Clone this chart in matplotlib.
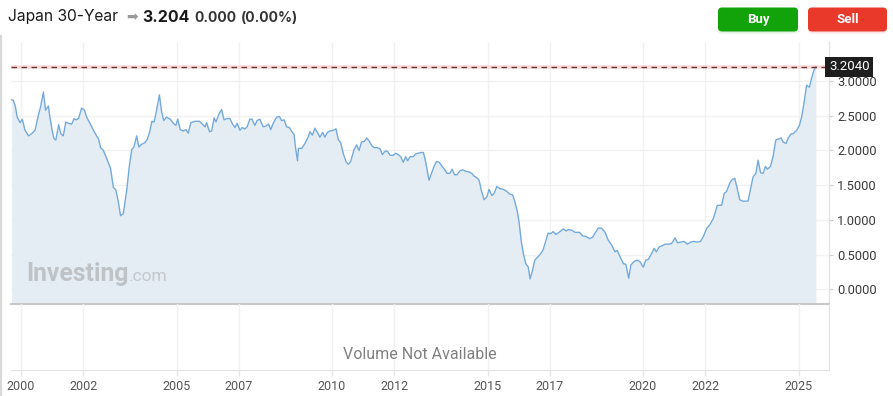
import matplotlib
matplotlib.use("Agg")
import matplotlib.pyplot as plt
from matplotlib.patches import FancyBboxPatch
from matplotlib.transforms import IdentityTransform
from matplotlib.lines import Line2D

# ---------------- data ----------------
dates = [
    1999.70, 1999.75, 1999.81, 1999.88, 1999.97, 2000.04, 2000.13, 2000.24, 2000.34, 2000.45,
    2000.56, 2000.63, 2000.72, 2000.79, 2000.88, 2000.93, 2001.00, 2001.06, 2001.12, 2001.21,
    2001.28, 2001.36, 2001.44, 2001.53, 2001.63, 2001.71, 2001.77, 2001.85, 2001.95, 2002.04,
    2002.11, 2002.22, 2002.33, 2002.44, 2002.49, 2002.56, 2002.65, 2002.76, 2002.88, 2002.97,
    2003.05, 2003.13, 2003.20, 2003.29, 2003.40, 2003.48, 2003.56, 2003.63, 2003.72, 2003.79,
    2003.88, 2003.98, 2004.06, 2004.14, 2004.21, 2004.28, 2004.36, 2004.45, 2004.52, 2004.59,
    2004.68, 2004.80, 2004.90, 2004.98, 2005.04, 2005.12, 2005.22, 2005.30, 2005.38, 2005.46,
    2005.60, 2005.74, 2005.83, 2005.92, 2005.97, 2006.06, 2006.13, 2006.21, 2006.27, 2006.36,
    2006.45, 2006.53, 2006.63, 2006.72, 2006.79, 2006.88, 2006.95, 2007.04, 2007.11, 2007.20,
    2007.27, 2007.36, 2007.43, 2007.52, 2007.59, 2007.68, 2007.79, 2007.87, 2007.96, 2008.03,
    2008.12, 2008.22, 2008.31, 2008.38, 2008.46, 2008.54, 2008.63, 2008.71, 2008.78, 2008.83,
    2008.89, 2008.92, 2009.03, 2009.13, 2009.24, 2009.29, 2009.37, 2009.45, 2009.53, 2009.61,
    2009.70, 2009.77, 2009.85, 2009.93, 2010.04, 2010.13, 2010.20, 2010.28, 2010.36, 2010.45,
    2010.52, 2010.60, 2010.70, 2010.79, 2010.87, 2010.95, 2011.04, 2011.12, 2011.20, 2011.28,
    2011.36, 2011.46, 2011.55, 2011.62, 2011.71, 2011.78, 2011.87, 2011.97, 2012.05, 2012.13,
    2012.21, 2012.29, 2012.37, 2012.43, 2012.51, 2012.61, 2012.69, 2012.78, 2012.85, 2012.94,
    2013.01, 2013.12, 2013.20, 2013.28, 2013.36, 2013.45, 2013.54, 2013.63, 2013.70, 2013.79,
    2013.86, 2013.94, 2014.02, 2014.12, 2014.21, 2014.30, 2014.41, 2014.49, 2014.57, 2014.65,
    2014.73, 2014.81, 2014.89, 2014.98, 2015.05, 2015.14, 2015.21, 2015.30, 2015.40, 2015.51,
    2015.62, 2015.72, 2015.81, 2015.88, 2015.96, 2016.02, 2016.08, 2016.15, 2016.23, 2016.31,
    2016.37, 2016.45, 2016.52, 2016.63, 2016.72, 2016.79, 2016.87, 2016.95, 2017.03, 2017.11,
    2017.20, 2017.30, 2017.44, 2017.53, 2017.60, 2017.71, 2017.82, 2017.96, 2018.06, 2018.17,
    2018.28, 2018.38, 2018.46, 2018.56, 2018.67, 2018.78, 2018.88, 2018.99, 2019.10, 2019.17,
    2019.26, 2019.37, 2019.45, 2019.54, 2019.61, 2019.71, 2019.81, 2019.90, 2020.01, 2020.09,
    2020.17, 2020.27, 2020.36, 2020.43, 2020.52, 2020.63, 2020.71, 2020.82, 2020.92, 2021.03,
    2021.11, 2021.21, 2021.32, 2021.43, 2021.53, 2021.64, 2021.75, 2021.85, 2021.94, 2022.05,
    2022.15, 2022.26, 2022.31, 2022.39, 2022.53, 2022.61, 2022.69, 2022.79, 2022.87, 2022.95,
    2023.04, 2023.11, 2023.20, 2023.31, 2023.38, 2023.46, 2023.54, 2023.63, 2023.70, 2023.78,
    2023.86, 2023.94, 2024.00, 2024.10, 2024.18, 2024.27, 2024.34, 2024.44, 2024.51, 2024.60,
    2024.67, 2024.76, 2024.83, 2024.94, 2025.03, 2025.10, 2025.19, 2025.26, 2025.35, 2025.42,
    2025.50, 2025.56,
]
yields = [
    2.73, 2.72, 2.65, 2.48, 2.40, 2.45, 2.29, 2.21, 2.24, 2.29,
    2.51, 2.63, 2.84, 2.58, 2.64, 2.48, 2.29, 2.17, 2.15, 2.37,
    2.24, 2.21, 2.41, 2.39, 2.38, 2.46, 2.44, 2.46, 2.61, 2.58,
    2.48, 2.39, 2.29, 2.20, 2.17, 2.04, 2.00, 1.88, 1.74, 1.47,
    1.43, 1.26, 1.06, 1.09, 1.43, 1.76, 2.01, 2.05, 2.21, 2.05,
    2.09, 2.11, 2.16, 2.27, 2.42, 2.41, 2.58, 2.80, 2.56, 2.43,
    2.48, 2.45, 2.39, 2.36, 2.45, 2.30, 2.28, 2.30, 2.25, 2.40,
    2.42, 2.42, 2.38, 2.34, 2.40, 2.27, 2.28, 2.47, 2.41, 2.52,
    2.59, 2.44, 2.46, 2.46, 2.39, 2.33, 2.39, 2.29, 2.33, 2.31,
    2.34, 2.45, 2.45, 2.36, 2.43, 2.45, 2.34, 2.35, 2.38, 2.30,
    2.40, 2.48, 2.49, 2.43, 2.44, 2.34, 2.33, 2.27, 2.23, 2.03,
    1.85, 2.03, 2.03, 2.10, 2.20, 2.27, 2.22, 2.32, 2.26, 2.19,
    2.26, 2.19, 2.26, 2.28, 2.29, 2.31, 2.16, 2.11, 1.96, 1.84,
    1.80, 1.84, 2.00, 2.08, 2.00, 2.12, 2.13, 2.18, 2.13, 2.07,
    2.04, 2.04, 2.02, 1.94, 1.99, 1.99, 1.93, 1.93, 1.96, 1.94,
    1.91, 1.83, 1.91, 1.85, 1.91, 1.91, 1.95, 1.96, 1.97, 1.97,
    1.84, 1.57, 1.67, 1.77, 1.84, 1.83, 1.77, 1.72, 1.67, 1.67,
    1.73, 1.65, 1.65, 1.71, 1.72, 1.70, 1.69, 1.67, 1.63, 1.61,
    1.57, 1.41, 1.29, 1.33, 1.44, 1.35, 1.38, 1.48, 1.45, 1.44,
    1.41, 1.37, 1.36, 1.26, 1.12, 0.95, 0.71, 0.52, 0.37, 0.32,
    0.15, 0.28, 0.42, 0.47, 0.52, 0.57, 0.69, 0.81, 0.80, 0.83,
    0.79, 0.82, 0.87, 0.84, 0.86, 0.85, 0.82, 0.82, 0.77, 0.76,
    0.73, 0.75, 0.81, 0.88, 0.88, 0.82, 0.71, 0.64, 0.54, 0.56,
    0.47, 0.37, 0.36, 0.16, 0.35, 0.40, 0.42, 0.40, 0.32, 0.42,
    0.43, 0.51, 0.59, 0.54, 0.61, 0.63, 0.65, 0.65, 0.66, 0.74,
    0.67, 0.68, 0.69, 0.65, 0.68, 0.69, 0.68, 0.69, 0.76, 0.88,
    0.93, 1.02, 1.09, 1.21, 1.21, 1.38, 1.41, 1.53, 1.58, 1.60,
    1.43, 1.29, 1.27, 1.27, 1.27, 1.45, 1.62, 1.67, 1.86, 1.68,
    1.67, 1.77, 1.73, 1.77, 1.91, 2.15, 2.16, 2.18, 2.12, 2.10,
    2.18, 2.24, 2.24, 2.29, 2.36, 2.48, 2.72, 2.94, 2.91, 3.04,
    3.16, 3.204,
]
last_price = 3.204
year_ticks = [2000, 2002, 2005, 2007, 2010, 2012, 2015, 2017, 2020, 2022, 2025]
year_labels = ["2000", "2002", "2005", "2007", "2010", "2012", "2015", "2017", "2020", "2022", "2025"]
y_ticks = [0.0, 0.5, 1.0, 1.5, 2.0, 2.5, 3.0]

title_name = "Japan 30-Year"
title_price = "3.204"
title_change = "0.000"
title_pct = "(0.00%)"

# ---------------- layout ----------------
W, H = 893, 396
fig = plt.figure(figsize=(W / 100, H / 100), dpi=100)
fig.patch.set_facecolor("white")


def fx(x):
    return x / W


def fy(y):
    return 1 - y / H


LEFT_PX, RIGHT_PX = 11, 829
TOP_PX, MID_PX, BOT_PX = 42, 304, 370
XMIN = 2000 + (LEFT_PX - 21) / 31.1
XMAX = 2000 + (RIGHT_PX - 21) / 31.1
Y0_PX, PX_PER_UNIT = 289.3, 69.43
YMIN = (Y0_PX - MID_PX) / PX_PER_UNIT
YMAX = (Y0_PX - TOP_PX) / PX_PER_UNIT

ax = fig.add_axes([fx(LEFT_PX), fy(MID_PX), (RIGHT_PX - LEFT_PX) / W, (MID_PX - TOP_PX) / H])
axv = fig.add_axes([fx(LEFT_PX), fy(BOT_PX), (RIGHT_PX - LEFT_PX) / W, (BOT_PX - MID_PX) / H])

grid_c = "#f1f1f1"
line_c = "#74aadb"
fill_c = "#e4edf4"
FONT = ["Roboto", "DejaVu Sans"]

# price panel
ax.set_xlim(XMIN, XMAX)
ax.set_ylim(YMIN, YMAX)
ax.fill_between(dates, yields, YMIN, color=fill_c, lw=0, zorder=1)
ax.plot(dates, yields, color=line_c, lw=1.0, zorder=3)
ax.set_yticks(y_ticks)
ax.set_yticklabels([f"{v:.4f}" for v in y_ticks])
ax.yaxis.tick_right()
ax.set_xticks(year_ticks)
ax.tick_params(axis="x", length=0, labelbottom=False)
ax.tick_params(axis="y", length=3, width=0.8, color="#d0d0d0", pad=3,
               labelsize=9.3, labelcolor="#3a3a3a")
for lab in ax.get_yticklabels():
    lab.set_fontfamily(FONT)
ax.grid(True, color=grid_c, lw=1.0, zorder=0)
ax.set_axisbelow(True)
for s in ["top", "left"]:
    ax.spines[s].set_visible(False)
ax.spines["bottom"].set_color("#c8c8c8")
ax.spines["bottom"].set_linewidth(1.5)
ax.spines["right"].set_color("#e2e2e2")
ax.spines["right"].set_linewidth(1.0)
ax.set_facecolor("none")

# last price dashed line
ax.axhline(last_price, color="#ffdcdc", lw=2.6, zorder=2)
ax.axhline(last_price, color="#6a3232", lw=1.0, dashes=(4, 3.2), zorder=4)
ax.text(1.0, last_price, f"{last_price:.4f}", transform=ax.get_yaxis_transform(),
        ha="left", va="center", fontsize=9.5, color="white",
        family=FONT, zorder=6,
        bbox=dict(boxstyle="square,pad=0.28", fc="#1e1e1e", ec="none"))

# watermark
fig.text(fx(26), fy(281), "Investing", fontsize=17.8, fontweight="bold", color="#bfc3c6",
         family=FONT, va="baseline", ha="left")
fig.text(fx(128.5), fy(281), ".com", fontsize=12.5, color="#c4c8cb",
         family=FONT, va="baseline", ha="left")

# volume panel
axv.set_xlim(XMIN, XMAX)
axv.set_ylim(0, 1)
axv.set_yticks([])
axv.set_xticks(year_ticks)
axv.set_xticklabels(year_labels)
axv.tick_params(axis="x", length=4, width=1, color="#e6e6e6", pad=3,
                labelsize=9, labelcolor="#555555")
for lab in axv.get_xticklabels():
    lab.set_fontfamily(FONT)
axv.grid(True, axis="x", color=grid_c, lw=1.0, zorder=0)
for s in ["top", "left"]:
    axv.spines[s].set_visible(False)
axv.spines["bottom"].set_color("#e2e2e2")
axv.spines["right"].set_color("#e2e2e2")
axv.set_facecolor("none")
axv.text(0.5, 0.24, "Volume Not Available", transform=axv.transAxes, ha="center", va="center",
         fontsize=11.5, color="#808080", family=FONT)

# left page border
fig.add_artist(Line2D([fx(0.8), fx(0.8)], [fy(36), fy(396)], color="#d8d8d8", lw=1.6))

# header
fig.text(fx(8), fy(17), title_name, fontsize=11.2, color="#1a1a1a",
         family=["Inter", "Roboto", "DejaVu Sans"], va="center", ha="left")
fig.text(fx(126), fy(17), "\u27a1", fontsize=10, color="#9a9a9a",
         family=["DejaVu Sans"], va="center", ha="left")
fig.text(fx(142), fy(17), title_price, fontsize=11.5, fontweight="bold", color="#1a1a1a",
         family=["Inter", "Roboto", "DejaVu Sans"], va="center", ha="left")
fig.text(fx(194), fy(17.5), title_change, fontsize=10, fontweight="bold", color="#333333",
         family=["Inter", "Roboto", "DejaVu Sans"], va="center", ha="left")
fig.text(fx(241), fy(17.5), title_pct, fontsize=10, fontweight="bold", color="#333333",
         family=["Inter", "Roboto", "DejaVu Sans"], va="center", ha="left")

# buttons (pixel coordinates, origin bottom-left)
for x0, x1, col, txt in [(718, 798, "#12a20a", "Buy"), (808, 887, "#e9392b", "Sell")]:
    y0, y1 = 7.5, 31.5
    shadow = FancyBboxPatch((x0, H - y1 - 2), x1 - x0, y1 - y0,
                            boxstyle="round,pad=0,rounding_size=4",
                            transform=IdentityTransform(), fc=col, ec="none", alpha=0.12)
    fig.add_artist(shadow)
    btn = FancyBboxPatch((x0, H - y1), x1 - x0, y1 - y0,
                         boxstyle="round,pad=0,rounding_size=4",
                         transform=IdentityTransform(), fc=col, ec="none")
    fig.add_artist(btn)
    fig.text(fx((x0 + x1) / 2), fy(19.5), txt, fontsize=9.5, fontweight="bold", color="white",
             family=FONT, ha="center", va="center")

fig.savefig("out.png", dpi=100, facecolor="white")
